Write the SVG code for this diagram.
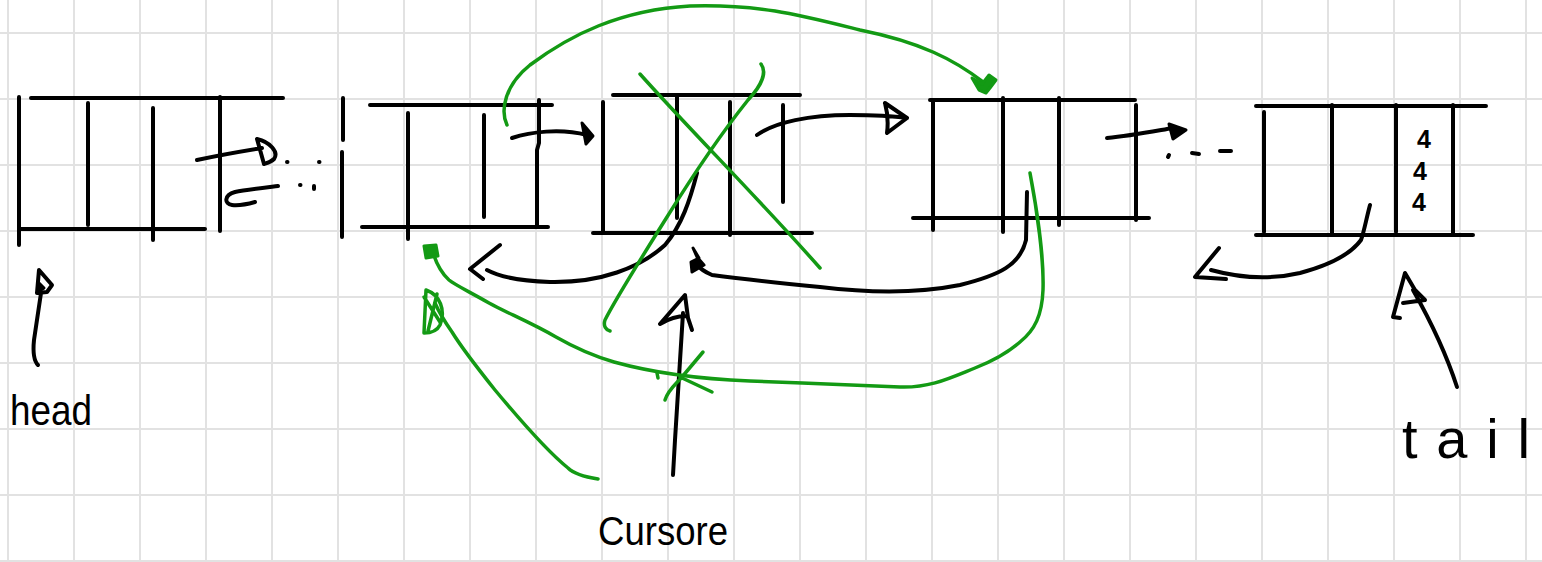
<svg xmlns="http://www.w3.org/2000/svg" width="1542" height="562" viewBox="0 0 1542 562">
<style>
.grid{stroke:#e2e2e2;stroke-width:2;fill:none}
.k{stroke:#000;stroke-width:4;fill:none;stroke-linecap:round;stroke-linejoin:round}
.kf{stroke:#000;stroke-width:3;fill:#000;stroke-linecap:round;stroke-linejoin:round}
.g{stroke:#139a14;stroke-width:3.5;fill:none;stroke-linecap:round;stroke-linejoin:round}
.gf{stroke:#139a14;stroke-width:3;fill:#139a14;stroke-linecap:round;stroke-linejoin:round}
.t{font-family:"Liberation Sans",Arial,sans-serif;fill:#000}
</style>
<rect width="1542" height="562" fill="#fff"/>
<path class="grid" d="M8 0V562M74 0V562M140 0V562M206 0V562M272 0V562M338 0V562M404 0V562M470 0V562M536 0V562M602 0V562M668 0V562M734 0V562M800 0V562M866 0V562M932 0V562M998 0V562M1064 0V562M1130 0V562M1196 0V562M1262 0V562M1328 0V562M1394 0V562M1460 0V562M1526 0V562M0 33H1542M0 99H1542M0 165H1542M0 231H1542M0 297H1542M0 363H1542M0 429H1542M0 495H1542M0 561H1542"/>

<g id="node-1">
<path class="k" d="M19 97V245M31 98H283M88 103V225M153 108V240M20 229H205M220 97V231"/>
</g>
<g id="node-2">
<path class="k" d="M343 98V140M342 152V237M370 105H552M362 227H548M408 113V239M484 115V217M539 100V143L537 150V227"/>
</g>
<g id="node-3">
<path class="k" d="M613 95H800M593 233H812M603 102V233M677 95V218M730 102V235M783 105V202"/>
</g>
<g id="node-4">
<path class="k" d="M930 100H1135M913 218H1149M933 100V230M1003 98V232M1059 98V225M1136 105V220"/>
</g>
<g id="node-5">
<path class="k" d="M1256 106H1486M1256 235H1473M1264 112V232M1332 105V235M1396 105V232M1453 105V235"/>
<text class="t" x="1417" y="148" font-size="25" font-weight="bold">4</text>
<text class="t" x="1413" y="180" font-size="25" font-weight="bold">4</text>
<text class="t" x="1412" y="211" font-size="25" font-weight="bold">4</text>
</g>
<g id="label-head">
<text class="t" x="10" y="425" font-size="42" textLength="82" lengthAdjust="spacingAndGlyphs">head</text>
</g>
<g id="label-cursore">
<text class="t" x="598" y="545" font-size="40" textLength="130" lengthAdjust="spacingAndGlyphs">Cursore</text>
</g>
<g id="label-tail">
<text class="t" x="1402" y="458" font-size="56" textLength="128" lengthAdjust="spacing">tail</text>
</g>

<g id="connectors">
<!-- black -->
<path class="k" d="M197 160Q225 154 262 148M257 139L264 164M257 139C270 142 279 152 274 159C271 162 267 163 264 164"/>
<path class="k" d="M287 162h0.5M319 162h0.5M300 185h0.5M314 186v3"/>
<path class="k" d="M278 186C262 188 245 190 235 192C224 195 224 204 232 205C240 206 248 204 255 202"/>
<path class="k" d="M512 138C530 132 560 128 587 135"/>
<path class="kf" d="M582 123L593 136L586 144Z"/>
<path class="k" d="M757 135C775 122 810 115 850 115C880 115 900 117 907 118M885 103L907 118L887 133Q889 118 885 103"/>
<path class="k" d="M697 173C690 200 682 225 665 245C640 268 600 283 550 282C520 281 500 277 487 270M500 245L470 269L483 279"/>
<path class="k" d="M1027 192L1026 240C1020 265 1000 275 960 285C920 293 870 293 820 287C770 282 735 278 712 275C705 272 701 270 699 266"/>
<path class="kf" d="M693 248L699 258L691 262L692 272L704 265L697 257Z"/>
<path class="k" d="M1107 138C1130 136 1150 132 1173 128"/>
<path class="kf" d="M1169 124L1186 130L1173 139Z"/>
<path class="k" d="M1169 155l-1 2M1192 153l7 1M1220 151h11"/>
<path class="k" d="M1370 205C1366 220 1364 232 1361 240C1350 255 1330 265 1300 273C1270 280 1240 278 1211 270M1219 248L1195 277L1226 279"/>
<path class="k" d="M38 365C33 360 33 350 34 340L41 293M39 270L52 285L47 292L37 293Z"/>
<path class="kf" d="M38 282L44 288L38 292Z"/>
<path class="k" d="M673 475L675 440L683 313M660 324L685 295L688 318L692 330M660 324C670 318 678 316 686 316"/>
<path class="k" d="M1457 387C1445 350 1430 320 1413 290M1405 273L1393 317L1400 318M1405 273L1415 290L1425 300L1403 303"/>
<!-- green -->
<path class="g" d="M507 125C500 110 505 85 530 65C570 35 620 10 690 6C760 4 800 15 860 30C920 42 955 60 983 82"/>
<path class="gf" d="M972 78L982 84L989 75L996 80L990 88L986 93L979 90Z"/>
<path class="g" d="M640 74C690 130 760 200 820 268"/>
<path class="g" d="M761 64C767 72 762 85 748 100C720 135 690 180 667 217C645 252 615 300 605 320C603 326 606 330 610 331"/>
<path class="g" d="M1030 173C1037 210 1044 260 1043 290C1042 315 1035 330 1020 342C1005 355 990 362 975 368C950 378 930 388 900 387C860 385 800 383 750 381C700 379 650 372 614 362C590 355 570 345 556 337C530 322 505 312 489 303C470 292 455 285 449 280C440 272 436 262 433 253"/>
<path class="gf" d="M424 246L436 245L438 256L426 258Z"/>
<path class="g" d="M598 479C585 477 574 474 568 468C548 452 520 420 495 390C475 365 460 345 452 332C445 322 438 310 435 303"/>
<path class="g" d="M426 290L424 333M426 290C440 295 446 310 440 325C436 333 428 333 424 333M424 297L440 322M437 294L428 331"/>
<path class="g" d="M703 352L682 377C675 385 668 390 665 400M680 377L712 392M657 373L658 378"/>
</g>
</svg>
